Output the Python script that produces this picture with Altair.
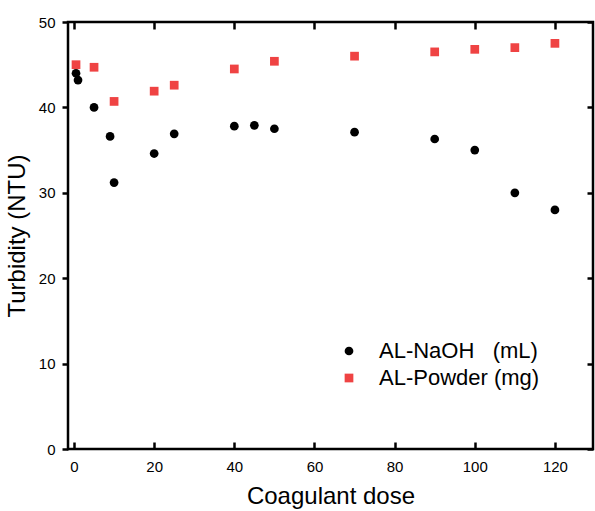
import altair as alt
import pandas as pd

# Data
naoh_dose = [0.5, 1, 5, 9, 10, 20, 25, 40, 45, 50, 70, 90, 100, 110, 120]
naoh_turb = [44.0, 43.2, 40.0, 36.6, 31.2, 34.6, 36.9, 37.8, 37.9, 37.5, 37.1, 36.3, 35.0, 30.0, 28.0]
powder_dose = [0.5, 5, 10, 20, 25, 40, 50, 70, 90, 100, 110, 120]
powder_turb = [45.0, 44.7, 40.7, 41.9, 42.6, 44.5, 45.4, 46.0, 46.5, 46.8, 47.0, 47.5]
series_names = ["AL-NaOH\u00a0\u00a0\u00a0(mL)", "AL-Powder (mg)"]
x_ticks = [0, 20, 40, 60, 80, 100, 120]
y_ticks = [0, 10, 20, 30, 40, 50]

df = pd.DataFrame({
    "dose": naoh_dose + powder_dose,
    "turb": naoh_turb + powder_turb,
    "series": [series_names[0]] * len(naoh_dose) + [series_names[1]] * len(powder_dose),
})

W, H = 525, 427
FONT = "Liberation Sans"

xs = alt.Scale(domain=[-1.5, 129.5], nice=False, zero=False)
ys = alt.Scale(domain=[0, 50], nice=False)

legend = alt.Legend(title=None, orient="none", legendX=270, legendY=318,
                    labelFont=FONT, labelFontSize=22, labelColor="black", labelLimit=400,
                    symbolSize=76, symbolStrokeWidth=0, rowPadding=5, labelOffset=19, padding=0)

base = alt.Chart(df).mark_point(filled=True, size=76, opacity=1)

main = base.encode(
    x=alt.X("dose:Q", scale=xs, title="Coagulant dose",
            axis=alt.Axis(orient="bottom", values=x_ticks, domain=False, ticks=False,
                          labelFont=FONT, labelFontSize=15, labelPadding=10, labelColor="black",
                          titleFont=FONT, titleFontSize=24, titleFontWeight="normal",
                          titleColor="black", titlePadding=10, grid=False)),
    y=alt.Y("turb:Q", scale=ys, title="Turbidity (NTU)",
            axis=alt.Axis(orient="left", values=y_ticks, domain=False, tickSize=6,
                          tickWidth=2.5, tickColor="black",
                          labelFont=FONT, labelFontSize=15, labelPadding=7, labelColor="black",
                          titleFont=FONT, titleFontSize=24, titleFontWeight="normal",
                          titleColor="black", titlePadding=9, grid=False)),
    color=alt.Color("series:N", scale=alt.Scale(domain=series_names, range=["black", "#ef4343"]),
                    legend=legend),
    shape=alt.Shape("series:N", scale=alt.Scale(domain=series_names, range=["circle", "square"]),
                    legend=legend),
)

# invisible layers that only carry the inward tick marks on the other edges
ticks_bottom_right = base.encode(
    x=alt.X("dose:Q", scale=xs, title=None,
            axis=alt.Axis(orient="top", offset=-H, values=x_ticks, domain=False, labels=False,
                          tickSize=7, tickWidth=2.5, tickColor="black", grid=False)),
    y=alt.Y("turb:Q", scale=ys, title=None,
            axis=alt.Axis(orient="left", offset=-W, values=y_ticks, domain=False, labels=False,
                          tickSize=6, tickWidth=2.5, tickColor="black", grid=False)),
    opacity=alt.value(0),
)

ticks_top = base.encode(
    x=alt.X("dose:Q", scale=xs, title=None,
            axis=alt.Axis(orient="bottom", offset=-H, values=x_ticks, domain=False, labels=False,
                          tickSize=7, tickWidth=2.5, tickColor="black", grid=False)),
    y=alt.Y("turb:Q", scale=ys, axis=None),
    opacity=alt.value(0),
)

chart = alt.layer(main, ticks_bottom_right, ticks_top).resolve_axis(
    x="independent", y="independent"
).properties(
    width=W, height=H,
    background="white",
    autosize=alt.AutoSizeParams(type="none"),
    padding={"left": 68, "top": 22, "right": 2, "bottom": 62},
).configure_view(
    stroke="black", strokeWidth=2.5
)

chart.save("out.html", embed_options={"renderer": "svg", "actions": False})
